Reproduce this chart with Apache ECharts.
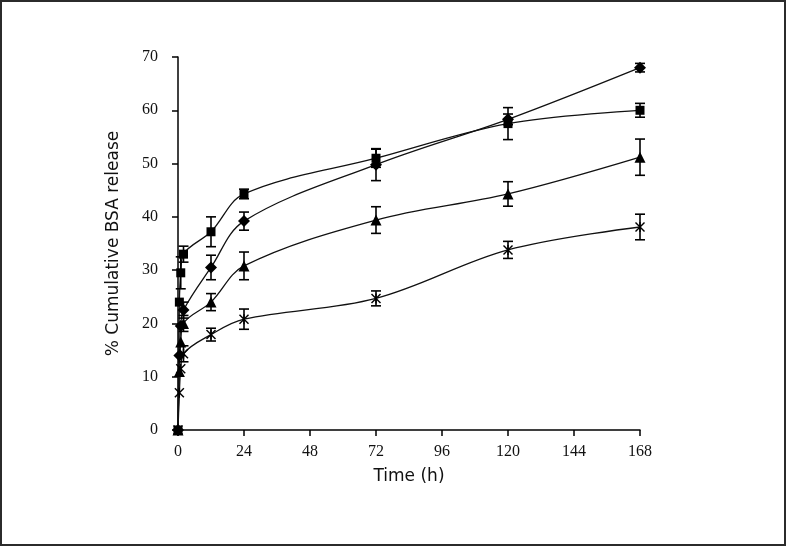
<!DOCTYPE html>
<html>
<head>
<meta charset="utf-8">
<script src="https://cdn.jsdelivr.net/npm/echarts@6/dist/echarts.min.js"></script>
<style>
html,body{margin:0;padding:0;background:#fff;overflow:hidden;}
#chart{position:absolute;left:0;top:0;width:786px;height:546px;}
#frame{position:absolute;left:0;top:0;width:786px;height:546px;box-sizing:border-box;border:2px solid #2b2b2b;pointer-events:none;z-index:10;}
</style>
</head>
<body>
<div id="chart"></div>
<div id="frame"></div>
<script>
// Time points (h)
var times = [0, 0.5, 1, 2, 12, 24, 72, 120, 168];
var xTicks = [0, 24, 48, 72, 96, 120, 144, 168];
var yTicks = [0, 10, 20, 30, 40, 50, 60, 70];

// Cumulative BSA release (%)
var squareVals   = [0, 24, 29.5, 33, 37.2, 44.3, 51, 57.5, 60];
var diamondVals  = [0, 14, 19.5, 22.5, 30.5, 39.2, 49.8, 58.3, 68];
var triangleVals = [0, 11, 16.5, 20, 24, 30.8, 39.4, 44.3, 51.2];
var starVals     = [0, 7, 11.5, 14.3, 17.9, 20.8, 24.7, 33.8, 38.1];

// Error (±)
var squareErr   = [0, 0, 3, 1.5, 2.8, 0.9, 1.7, 3, 1.3];
var diamondErr  = [0, 0, 0, 1.5, 2.3, 1.7, 3, 1, 0.8];
var triangleErr = [0, 0, 0, 1.5, 1.6, 2.6, 2.5, 2.3, 3.4];
var starErr     = [0, 0, 0, 1.5, 1.2, 1.9, 1.4, 1.6, 2.4];

function pts(vals) { return times.map(function (t, i) { return [t, vals[i]]; }); }
function errs(vals, e) {
  var out = [];
  times.forEach(function (t, i) { if (e[i] > 0) out.push([t, vals[i] - e[i], vals[i] + e[i]]); });
  return out;
}

var starPath = 'path://M1,0 L5,4 L9,0 L10,1 L6,5 L10,9 L9,10 L5,6 L1,10 L0,9 L4,5 L0,1 Z M4.3,0 L5.7,0 L5.7,10 L4.3,10 Z';

function lineSeries(name, vals, symbol, size) {
  return {
    name: name, type: 'line', data: pts(vals), smooth: 0.35,
    symbol: symbol, symbolSize: size, showSymbol: true,
    lineStyle: { color: '#111', width: 1.3 },
    itemStyle: { color: '#000' },
    z: 3, animation: false
  };
}
function errSeries(vals, e) {
  return {
    type: 'custom', data: errs(vals, e), z: 4, animation: false,
    renderItem: function (params, api) {
      var x = api.value(0);
      var lo = api.coord([x, api.value(1)]);
      var hi = api.coord([x, api.value(2)]);
      var cw = 5;
      var st = { stroke: '#000', lineWidth: 1.6 };
      return {
        type: 'group', children: [
          { type: 'line', shape: { x1: lo[0], y1: lo[1], x2: hi[0], y2: hi[1] }, style: st },
          { type: 'line', shape: { x1: lo[0] - cw, y1: lo[1], x2: lo[0] + cw, y2: lo[1] }, style: st },
          { type: 'line', shape: { x1: hi[0] - cw, y1: hi[1], x2: hi[0] + cw, y2: hi[1] }, style: st }
        ]
      };
    }
  };
}

var chart = echarts.init(document.getElementById('chart'));
chart.setOption({
  backgroundColor: '#fff',
  animation: false,
  grid: { left: 178, right: 146, top: 57, bottom: 116 },
  xAxis: {
    type: 'value', min: 0, max: 168, interval: 24,
    name: 'Time (h)', nameLocation: 'middle', nameGap: 38,
    nameTextStyle: { fontFamily: 'DejaVu Sans', fontSize: 17, color: '#111' },
    axisLine: { lineStyle: { color: '#000', width: 1.5 } },
    axisTick: { show: true, length: 6, lineStyle: { color: '#000', width: 1.5 } },
    axisLabel: { fontFamily: 'Liberation Serif', fontSize: 16, color: '#111', margin: 14,
      formatter: function (v) { return xTicks.indexOf(v) >= 0 ? String(v) : ''; } },
    splitLine: { show: false }
  },
  yAxis: {
    type: 'value', min: 0, max: 70, interval: 10,
    name: '% Cumulative BSA release', nameLocation: 'middle', nameGap: 56, nameRotate: 90,
    nameTextStyle: { fontFamily: 'DejaVu Sans', fontSize: 17, color: '#111' },
    axisLine: { show: true, lineStyle: { color: '#000', width: 1.5 } },
    axisTick: { show: true, length: 6, lineStyle: { color: '#000', width: 1.5 } },
    axisLabel: { fontFamily: 'Liberation Serif', fontSize: 16, color: '#111', margin: 20,
      formatter: function (v) { return yTicks.indexOf(v) >= 0 ? String(v) : ''; } },
    splitLine: { show: false }
  },
  series: [
    lineSeries('square', squareVals, 'rect', 9),
    lineSeries('diamond', diamondVals, 'diamond', 12),
    lineSeries('triangle', triangleVals, 'triangle', 11),
    lineSeries('star', starVals, starPath, 10),
    errSeries(squareVals, squareErr),
    errSeries(diamondVals, diamondErr),
    errSeries(triangleVals, triangleErr),
    errSeries(starVals, starErr)
  ]
});
</script>
</body>
</html>
